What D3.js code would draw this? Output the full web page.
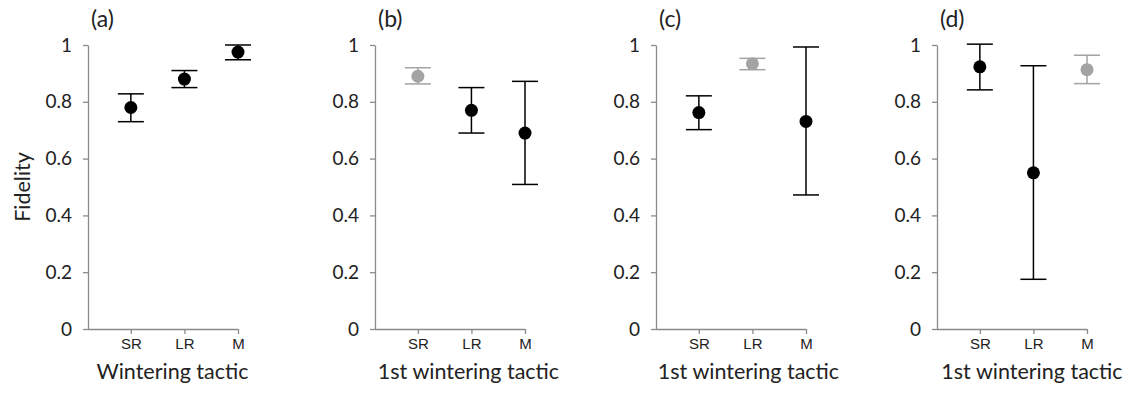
<!DOCTYPE html>
<html>
<head>
<meta charset="utf-8">
<script src="https://cdn.jsdelivr.net/npm/d3@7"></script>
<style>
  body { margin: 0; background: #fff; }
  .axis path, .axis line { stroke: #8a8a8a; stroke-width: 1.3px; }
  .ytick text { font-family: Lato, "Open Sans", sans-serif; font-size: 19px; fill: #222; }
  .xtick text { font-family: "Liberation Sans", Arial, sans-serif; font-size: 15px; fill: #222; }
  .title { font-family: Lato, "Open Sans", sans-serif; fill: #222; }
</style>
</head>
<body>
<div id="chart"></div>
<script>
// data
var categories = ["SR", "LR", "M"];
var panelLabels = ["(a)", "(b)", "(c)", "(d)"];
var xTitles = ["Wintering tactic", "1st wintering tactic", "1st wintering tactic", "1st wintering tactic"];
var yTickValues = [0, 0.2, 0.4, 0.6, 0.8, 1];
var yTickLabels = ["0", "0.2", "0.4", "0.6", "0.8", "1"];

var meanA = [0.78, 0.88, 0.975];
var lowA = [0.73, 0.85, 0.948];
var highA = [0.828, 0.91, 1.0];
var greyA = [false, false, false];

var meanB = [0.89, 0.77, 0.69];
var lowB = [0.863, 0.69, 0.509];
var highB = [0.92, 0.85, 0.872];
var greyB = [true, false, false];

var meanC = [0.762, 0.934, 0.731];
var lowC = [0.702, 0.913, 0.472];
var highC = [0.821, 0.953, 0.993];
var greyC = [false, true, false];

var meanD = [0.923, 0.55, 0.913];
var lowD = [0.842, 0.175, 0.864];
var highD = [1.003, 0.927, 0.964];
var greyD = [false, false, true];

var panels = [
  { mean: meanA, low: lowA, high: highA, grey: greyA },
  { mean: meanB, low: lowB, high: highB, grey: greyB },
  { mean: meanC, low: lowC, high: highC, grey: greyC },
  { mean: meanD, low: lowD, high: highD, grey: greyD }
];

var W = 1135, H = 394;
var axisX = [88, 375, 656, 937];      // left edge of each plot
var titleX = [84.5, 93.5, 92.5, 95];  // centre of x title, from the axis
var plotTop = 45, plotBottom = 329;

var svg = d3.select("#chart").append("svg")
  .attr("width", W)
  .attr("height", H);

var y = d3.scaleLinear().domain([0, 1]).range([plotBottom, plotTop]);
// categories sit at 1,2,3 ; axis starts a bit before the first one
var x = d3.scaleLinear().domain([0.2, 3]).range([0, 150]);

panels.forEach(function (p, i) {
  var g = svg.append("g")
    .attr("transform", "translate(" + axisX[i] + ",0)");

  // y axis
  g.append("g")
    .attr("class", "axis ytick")
    .call(d3.axisLeft(y)
      .tickValues(yTickValues)
      .tickFormat(function (d, k) { return yTickLabels[k]; })
      .tickSize(5)
      .tickSizeOuter(0)
      .tickPadding(11));

  // x axis
  g.append("g")
    .attr("class", "axis xtick")
    .attr("transform", "translate(0," + plotBottom + ")")
    .call(d3.axisBottom(x)
      .tickValues([1, 2, 3])
      .tickFormat(function (d) { return categories[d - 1]; })
      .tickSize(5)
      .tickSizeOuter(0)
      .tickPadding(4));
  g.select(".xtick .domain").attr("d", "M0,0.5H" + x(3));

  var rows = categories.map(function (c, k) {
    return { k: k + 1, m: p.mean[k], lo: p.low[k], hi: p.high[k], grey: p.grey[k] };
  });

  var pts = g.selectAll(".pt").data(rows).enter().append("g").attr("class", "pt");
  var col = function (d) { return d.grey ? "#a3a3a3" : "#000"; };

  pts.append("line")
    .attr("x1", function (d) { return x(d.k); })
    .attr("x2", function (d) { return x(d.k); })
    .attr("y1", function (d) { return y(d.lo); })
    .attr("y2", function (d) { return y(d.hi); })
    .attr("stroke", col).attr("stroke-width", 1.5);
  pts.append("line")
    .attr("x1", function (d) { return x(d.k) - 13; })
    .attr("x2", function (d) { return x(d.k) + 13; })
    .attr("y1", function (d) { return y(d.hi); })
    .attr("y2", function (d) { return y(d.hi); })
    .attr("stroke", col).attr("stroke-width", 1.5);
  pts.append("line")
    .attr("x1", function (d) { return x(d.k) - 13; })
    .attr("x2", function (d) { return x(d.k) + 13; })
    .attr("y1", function (d) { return y(d.lo); })
    .attr("y2", function (d) { return y(d.lo); })
    .attr("stroke", col).attr("stroke-width", 1.5);
  pts.append("circle")
    .attr("cx", function (d) { return x(d.k); })
    .attr("cy", function (d) { return y(d.m); })
    .attr("r", 6.5)
    .attr("fill", col);

  // panel label
  g.append("text")
    .attr("class", "title")
    .attr("x", 3)
    .attr("y", 27)
    .style("font-size", "23px")
    .text(panelLabels[i]);

  // x title
  g.append("text")
    .attr("class", "title")
    .attr("x", titleX[i])
    .attr("y", 379)
    .attr("text-anchor", "middle")
    .style("font-size", "21.5px")
    .text(xTitles[i]);
});

// y title
svg.append("text")
  .attr("class", "title")
  .attr("transform", "translate(30," + 187 + ") rotate(-90)")
  .attr("text-anchor", "middle")
  .style("font-size", "21.5px")
  .text("Fidelity");
</script>
</body>
</html>
